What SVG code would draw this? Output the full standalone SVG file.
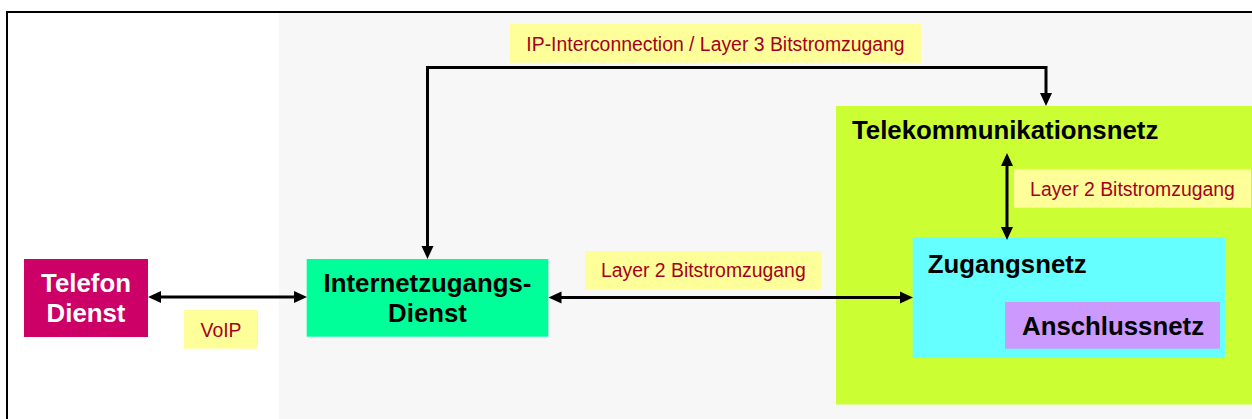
<svg xmlns="http://www.w3.org/2000/svg" width="1252" height="419" viewBox="0 0 1252 419">
  <style>
    .node-text { font-family: "Liberation Sans", Arial, sans-serif; font-size: 25.8px; font-weight: bold; fill: #000000; }
    .node-text.light { fill: #ffffff; }
    .label-box { fill: #ffff99; }
    .label-text { font-family: "Liberation Sans", Arial, sans-serif; font-size: 19.4px; fill: #a50021; }
    .conn { fill: none; stroke: #000000; stroke-width: 3; marker-start: url(#arrow); marker-end: url(#arrow); }
  </style>
  <defs>
    <marker id="arrow" markerUnits="userSpaceOnUse" markerWidth="14" markerHeight="13" refX="9" refY="6" orient="auto-start-reverse" viewBox="0 0 14 12">
      <path d="M0,0 L13,6 L0,12 z" fill="#000000"/>
    </marker>
  </defs>

  <!-- background and frame -->
  <rect x="0" y="0" width="1252" height="419" fill="#ffffff"/>
  <rect x="279" y="13" width="973" height="406" fill="#f7f7f7"/>
  <path d="M7,419 V12 H1252" fill="none" stroke="#000000" stroke-width="2"/>

  <!-- nested networks -->
  <g id="telekommunikationsnetz">
    <rect x="836" y="106" width="416" height="298.5" fill="#ccff33"/>
    <text class="node-text" x="852" y="139">Telekommunikationsnetz</text>
  </g>
  <g id="zugangsnetz">
    <rect x="912.7" y="237.3" width="312.3" height="120.4" fill="#66ffff"/>
    <text class="node-text" x="927.7" y="273">Zugangsnetz</text>
  </g>
  <g id="anschlussnetz">
    <rect x="1005" y="302" width="215" height="46.7" fill="#cc99ff"/>
    <text class="node-text" x="1022" y="335">Anschlussnetz</text>
  </g>

  <!-- services -->
  <g id="telefon-dienst">
    <rect x="24" y="259" width="124" height="78" fill="#cc0066"/>
    <text class="node-text light" x="86" y="291.7" text-anchor="middle">Telefon</text>
    <text class="node-text light" x="86" y="322.3" text-anchor="middle">Dienst</text>
  </g>
  <g id="internetzugangs-dienst">
    <rect x="306.7" y="259" width="241.6" height="77.7" fill="#00ff99"/>
    <text class="node-text" x="427.5" y="291.7" text-anchor="middle">Internetzugangs-</text>
    <text class="node-text" x="427.5" y="321.7" text-anchor="middle">Dienst</text>
  </g>

  <!-- connectors -->
  <g id="connectors">
    <path class="conn" d="M152,297 H303"/>
    <path class="conn" d="M552.5,297.5 H909"/>
    <path class="conn" d="M427.5,255 V67.5 H1046 V102"/>
    <path class="conn" d="M1007,157 V236"/>
  </g>

  <!-- connector labels -->
  <g id="label-voip">
    <rect class="label-box" x="184" y="310" width="74" height="38.7"/>
    <text class="label-text" x="221" y="336.7" text-anchor="middle">VoIP</text>
  </g>
  <g id="label-layer2-mid">
    <rect class="label-box" x="585" y="251" width="236.7" height="38.3"/>
    <text class="label-text" x="703.3" y="277.3" text-anchor="middle">Layer 2 Bitstromzugang</text>
  </g>
  <g id="label-layer3">
    <rect class="label-box" x="510" y="24" width="411" height="38.7"/>
    <text class="label-text" x="715.5" y="51.2" text-anchor="middle">IP-Interconnection / Layer 3 Bitstromzugang</text>
  </g>
  <g id="label-layer2-right">
    <rect class="label-box" x="1014" y="169.3" width="237" height="38.4"/>
    <text class="label-text" x="1132.5" y="196" text-anchor="middle">Layer 2 Bitstromzugang</text>
  </g>
</svg>
